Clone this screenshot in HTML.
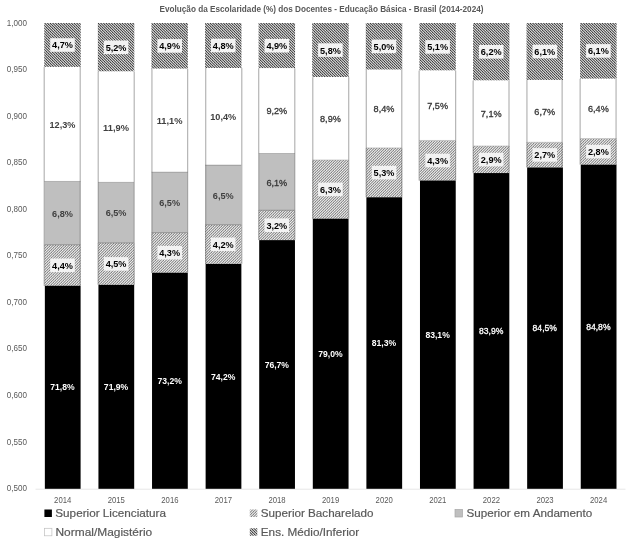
<!DOCTYPE html>
<html><head><meta charset="utf-8"><title>Chart</title>
<style>
html,body{margin:0;padding:0;background:#fff;}
body{width:628px;height:543px;overflow:hidden;font-family:"Liberation Sans",sans-serif;}
svg{display:block;will-change:transform;filter:grayscale(1);}
text{font-family:"Liberation Sans",sans-serif;}
.ax{font-size:8.8px;fill:#595959;}
.lb{font-size:10px;font-weight:bold;}
.lg{font-size:11.8px;fill:#595959;stroke:#595959;stroke-width:0.2px;}
</style></head><body>
<svg width="628" height="543" viewBox="0 0 628 543">
<defs>
<pattern id="pd" width="16" height="16" patternUnits="userSpaceOnUse" patternTransform="translate(0,0)">
<rect width="16" height="16" fill="#fff"/>
<path transform="scale(0.6666667)" d="M-29,-1 L-29,0 L-28,0 L-28,1 L-27,1 L-27,2 L-26,2 L-26,3 L-25,3 L-25,4 L-24,4 L-24,5 L-23,5 L-23,6 L-22,6 L-22,7 L-21,7 L-21,8 L-20,8 L-20,9 L-19,9 L-19,10 L-18,10 L-18,11 L-17,11 L-17,12 L-16,12 L-16,13 L-15,13 L-15,14 L-14,14 L-14,15 L-13,15 L-13,16 L-12,16 L-12,17 L-11,17 L-11,18 L-10,18 L-10,19 L-9,19 L-9,20 L-8,20 L-8,21 L-7,21 L-7,22 L-6,22 L-6,23 L-5,23 L-5,24 L-4,24 L-4,25 L-2.3,25 L-2.3,24 L-3.3,24 L-3.3,23 L-4.3,23 L-4.3,22 L-5.3,22 L-5.3,21 L-6.3,21 L-6.3,20 L-7.3,20 L-7.3,19 L-8.3,19 L-8.3,18 L-9.3,18 L-9.3,17 L-10.3,17 L-10.3,16 L-11.3,16 L-11.3,15 L-12.3,15 L-12.3,14 L-13.3,14 L-13.3,13 L-14.3,13 L-14.3,12 L-15.3,12 L-15.3,11 L-16.3,11 L-16.3,10 L-17.3,10 L-17.3,9 L-18.3,9 L-18.3,8 L-19.3,8 L-19.3,7 L-20.3,7 L-20.3,6 L-21.3,6 L-21.3,5 L-22.3,5 L-22.3,4 L-23.3,4 L-23.3,3 L-24.3,3 L-24.3,2 L-25.3,2 L-25.3,1 L-26.3,1 L-26.3,0 L-27.3,0 L-27.3,-1Z M-25,-1 L-25,0 L-24,0 L-24,1 L-23,1 L-23,2 L-22,2 L-22,3 L-21,3 L-21,4 L-20,4 L-20,5 L-19,5 L-19,6 L-18,6 L-18,7 L-17,7 L-17,8 L-16,8 L-16,9 L-15,9 L-15,10 L-14,10 L-14,11 L-13,11 L-13,12 L-12,12 L-12,13 L-11,13 L-11,14 L-10,14 L-10,15 L-9,15 L-9,16 L-8,16 L-8,17 L-7,17 L-7,18 L-6,18 L-6,19 L-5,19 L-5,20 L-4,20 L-4,21 L-3,21 L-3,22 L-2,22 L-2,23 L-1,23 L-1,24 L0,24 L0,25 L1.7,25 L1.7,24 L0.7,24 L0.7,23 L-0.3,23 L-0.3,22 L-1.3,22 L-1.3,21 L-2.3,21 L-2.3,20 L-3.3,20 L-3.3,19 L-4.3,19 L-4.3,18 L-5.3,18 L-5.3,17 L-6.3,17 L-6.3,16 L-7.3,16 L-7.3,15 L-8.3,15 L-8.3,14 L-9.3,14 L-9.3,13 L-10.3,13 L-10.3,12 L-11.3,12 L-11.3,11 L-12.3,11 L-12.3,10 L-13.3,10 L-13.3,9 L-14.3,9 L-14.3,8 L-15.3,8 L-15.3,7 L-16.3,7 L-16.3,6 L-17.3,6 L-17.3,5 L-18.3,5 L-18.3,4 L-19.3,4 L-19.3,3 L-20.3,3 L-20.3,2 L-21.3,2 L-21.3,1 L-22.3,1 L-22.3,0 L-23.3,0 L-23.3,-1Z M-21,-1 L-21,0 L-20,0 L-20,1 L-19,1 L-19,2 L-18,2 L-18,3 L-17,3 L-17,4 L-16,4 L-16,5 L-15,5 L-15,6 L-14,6 L-14,7 L-13,7 L-13,8 L-12,8 L-12,9 L-11,9 L-11,10 L-10,10 L-10,11 L-9,11 L-9,12 L-8,12 L-8,13 L-7,13 L-7,14 L-6,14 L-6,15 L-5,15 L-5,16 L-4,16 L-4,17 L-3,17 L-3,18 L-2,18 L-2,19 L-1,19 L-1,20 L0,20 L0,21 L1,21 L1,22 L2,22 L2,23 L3,23 L3,24 L4,24 L4,25 L5.7,25 L5.7,24 L4.7,24 L4.7,23 L3.7,23 L3.7,22 L2.7,22 L2.7,21 L1.7,21 L1.7,20 L0.7,20 L0.7,19 L-0.3,19 L-0.3,18 L-1.3,18 L-1.3,17 L-2.3,17 L-2.3,16 L-3.3,16 L-3.3,15 L-4.3,15 L-4.3,14 L-5.3,14 L-5.3,13 L-6.3,13 L-6.3,12 L-7.3,12 L-7.3,11 L-8.3,11 L-8.3,10 L-9.3,10 L-9.3,9 L-10.3,9 L-10.3,8 L-11.3,8 L-11.3,7 L-12.3,7 L-12.3,6 L-13.3,6 L-13.3,5 L-14.3,5 L-14.3,4 L-15.3,4 L-15.3,3 L-16.3,3 L-16.3,2 L-17.3,2 L-17.3,1 L-18.3,1 L-18.3,0 L-19.3,0 L-19.3,-1Z M-17,-1 L-17,0 L-16,0 L-16,1 L-15,1 L-15,2 L-14,2 L-14,3 L-13,3 L-13,4 L-12,4 L-12,5 L-11,5 L-11,6 L-10,6 L-10,7 L-9,7 L-9,8 L-8,8 L-8,9 L-7,9 L-7,10 L-6,10 L-6,11 L-5,11 L-5,12 L-4,12 L-4,13 L-3,13 L-3,14 L-2,14 L-2,15 L-1,15 L-1,16 L0,16 L0,17 L1,17 L1,18 L2,18 L2,19 L3,19 L3,20 L4,20 L4,21 L5,21 L5,22 L6,22 L6,23 L7,23 L7,24 L8,24 L8,25 L9.7,25 L9.7,24 L8.7,24 L8.7,23 L7.7,23 L7.7,22 L6.7,22 L6.7,21 L5.7,21 L5.7,20 L4.7,20 L4.7,19 L3.7,19 L3.7,18 L2.7,18 L2.7,17 L1.7,17 L1.7,16 L0.7,16 L0.7,15 L-0.3,15 L-0.3,14 L-1.3,14 L-1.3,13 L-2.3,13 L-2.3,12 L-3.3,12 L-3.3,11 L-4.3,11 L-4.3,10 L-5.3,10 L-5.3,9 L-6.3,9 L-6.3,8 L-7.3,8 L-7.3,7 L-8.3,7 L-8.3,6 L-9.3,6 L-9.3,5 L-10.3,5 L-10.3,4 L-11.3,4 L-11.3,3 L-12.3,3 L-12.3,2 L-13.3,2 L-13.3,1 L-14.3,1 L-14.3,0 L-15.3,0 L-15.3,-1Z M-13,-1 L-13,0 L-12,0 L-12,1 L-11,1 L-11,2 L-10,2 L-10,3 L-9,3 L-9,4 L-8,4 L-8,5 L-7,5 L-7,6 L-6,6 L-6,7 L-5,7 L-5,8 L-4,8 L-4,9 L-3,9 L-3,10 L-2,10 L-2,11 L-1,11 L-1,12 L0,12 L0,13 L1,13 L1,14 L2,14 L2,15 L3,15 L3,16 L4,16 L4,17 L5,17 L5,18 L6,18 L6,19 L7,19 L7,20 L8,20 L8,21 L9,21 L9,22 L10,22 L10,23 L11,23 L11,24 L12,24 L12,25 L13.7,25 L13.7,24 L12.7,24 L12.7,23 L11.7,23 L11.7,22 L10.7,22 L10.7,21 L9.7,21 L9.7,20 L8.7,20 L8.7,19 L7.7,19 L7.7,18 L6.7,18 L6.7,17 L5.7,17 L5.7,16 L4.7,16 L4.7,15 L3.7,15 L3.7,14 L2.7,14 L2.7,13 L1.7,13 L1.7,12 L0.7,12 L0.7,11 L-0.3,11 L-0.3,10 L-1.3,10 L-1.3,9 L-2.3,9 L-2.3,8 L-3.3,8 L-3.3,7 L-4.3,7 L-4.3,6 L-5.3,6 L-5.3,5 L-6.3,5 L-6.3,4 L-7.3,4 L-7.3,3 L-8.3,3 L-8.3,2 L-9.3,2 L-9.3,1 L-10.3,1 L-10.3,0 L-11.3,0 L-11.3,-1Z M-9,-1 L-9,0 L-8,0 L-8,1 L-7,1 L-7,2 L-6,2 L-6,3 L-5,3 L-5,4 L-4,4 L-4,5 L-3,5 L-3,6 L-2,6 L-2,7 L-1,7 L-1,8 L0,8 L0,9 L1,9 L1,10 L2,10 L2,11 L3,11 L3,12 L4,12 L4,13 L5,13 L5,14 L6,14 L6,15 L7,15 L7,16 L8,16 L8,17 L9,17 L9,18 L10,18 L10,19 L11,19 L11,20 L12,20 L12,21 L13,21 L13,22 L14,22 L14,23 L15,23 L15,24 L16,24 L16,25 L17.7,25 L17.7,24 L16.7,24 L16.7,23 L15.7,23 L15.7,22 L14.7,22 L14.7,21 L13.7,21 L13.7,20 L12.7,20 L12.7,19 L11.7,19 L11.7,18 L10.7,18 L10.7,17 L9.7,17 L9.7,16 L8.7,16 L8.7,15 L7.7,15 L7.7,14 L6.7,14 L6.7,13 L5.7,13 L5.7,12 L4.7,12 L4.7,11 L3.7,11 L3.7,10 L2.7,10 L2.7,9 L1.7,9 L1.7,8 L0.7,8 L0.7,7 L-0.3,7 L-0.3,6 L-1.3,6 L-1.3,5 L-2.3,5 L-2.3,4 L-3.3,4 L-3.3,3 L-4.3,3 L-4.3,2 L-5.3,2 L-5.3,1 L-6.3,1 L-6.3,0 L-7.3,0 L-7.3,-1Z M-5,-1 L-5,0 L-4,0 L-4,1 L-3,1 L-3,2 L-2,2 L-2,3 L-1,3 L-1,4 L0,4 L0,5 L1,5 L1,6 L2,6 L2,7 L3,7 L3,8 L4,8 L4,9 L5,9 L5,10 L6,10 L6,11 L7,11 L7,12 L8,12 L8,13 L9,13 L9,14 L10,14 L10,15 L11,15 L11,16 L12,16 L12,17 L13,17 L13,18 L14,18 L14,19 L15,19 L15,20 L16,20 L16,21 L17,21 L17,22 L18,22 L18,23 L19,23 L19,24 L20,24 L20,25 L21.7,25 L21.7,24 L20.7,24 L20.7,23 L19.7,23 L19.7,22 L18.7,22 L18.7,21 L17.7,21 L17.7,20 L16.7,20 L16.7,19 L15.7,19 L15.7,18 L14.7,18 L14.7,17 L13.7,17 L13.7,16 L12.7,16 L12.7,15 L11.7,15 L11.7,14 L10.7,14 L10.7,13 L9.7,13 L9.7,12 L8.7,12 L8.7,11 L7.7,11 L7.7,10 L6.7,10 L6.7,9 L5.7,9 L5.7,8 L4.7,8 L4.7,7 L3.7,7 L3.7,6 L2.7,6 L2.7,5 L1.7,5 L1.7,4 L0.7,4 L0.7,3 L-0.3,3 L-0.3,2 L-1.3,2 L-1.3,1 L-2.3,1 L-2.3,0 L-3.3,0 L-3.3,-1Z M-1,-1 L-1,0 L0,0 L0,1 L1,1 L1,2 L2,2 L2,3 L3,3 L3,4 L4,4 L4,5 L5,5 L5,6 L6,6 L6,7 L7,7 L7,8 L8,8 L8,9 L9,9 L9,10 L10,10 L10,11 L11,11 L11,12 L12,12 L12,13 L13,13 L13,14 L14,14 L14,15 L15,15 L15,16 L16,16 L16,17 L17,17 L17,18 L18,18 L18,19 L19,19 L19,20 L20,20 L20,21 L21,21 L21,22 L22,22 L22,23 L23,23 L23,24 L24,24 L24,25 L25.7,25 L25.7,24 L24.7,24 L24.7,23 L23.7,23 L23.7,22 L22.7,22 L22.7,21 L21.7,21 L21.7,20 L20.7,20 L20.7,19 L19.7,19 L19.7,18 L18.7,18 L18.7,17 L17.7,17 L17.7,16 L16.7,16 L16.7,15 L15.7,15 L15.7,14 L14.7,14 L14.7,13 L13.7,13 L13.7,12 L12.7,12 L12.7,11 L11.7,11 L11.7,10 L10.7,10 L10.7,9 L9.7,9 L9.7,8 L8.7,8 L8.7,7 L7.7,7 L7.7,6 L6.7,6 L6.7,5 L5.7,5 L5.7,4 L4.7,4 L4.7,3 L3.7,3 L3.7,2 L2.7,2 L2.7,1 L1.7,1 L1.7,0 L0.7,0 L0.7,-1Z M3,-1 L3,0 L4,0 L4,1 L5,1 L5,2 L6,2 L6,3 L7,3 L7,4 L8,4 L8,5 L9,5 L9,6 L10,6 L10,7 L11,7 L11,8 L12,8 L12,9 L13,9 L13,10 L14,10 L14,11 L15,11 L15,12 L16,12 L16,13 L17,13 L17,14 L18,14 L18,15 L19,15 L19,16 L20,16 L20,17 L21,17 L21,18 L22,18 L22,19 L23,19 L23,20 L24,20 L24,21 L25,21 L25,22 L26,22 L26,23 L27,23 L27,24 L28,24 L28,25 L29.7,25 L29.7,24 L28.7,24 L28.7,23 L27.7,23 L27.7,22 L26.7,22 L26.7,21 L25.7,21 L25.7,20 L24.7,20 L24.7,19 L23.7,19 L23.7,18 L22.7,18 L22.7,17 L21.7,17 L21.7,16 L20.7,16 L20.7,15 L19.7,15 L19.7,14 L18.7,14 L18.7,13 L17.7,13 L17.7,12 L16.7,12 L16.7,11 L15.7,11 L15.7,10 L14.7,10 L14.7,9 L13.7,9 L13.7,8 L12.7,8 L12.7,7 L11.7,7 L11.7,6 L10.7,6 L10.7,5 L9.7,5 L9.7,4 L8.7,4 L8.7,3 L7.7,3 L7.7,2 L6.7,2 L6.7,1 L5.7,1 L5.7,0 L4.7,0 L4.7,-1Z M7,-1 L7,0 L8,0 L8,1 L9,1 L9,2 L10,2 L10,3 L11,3 L11,4 L12,4 L12,5 L13,5 L13,6 L14,6 L14,7 L15,7 L15,8 L16,8 L16,9 L17,9 L17,10 L18,10 L18,11 L19,11 L19,12 L20,12 L20,13 L21,13 L21,14 L22,14 L22,15 L23,15 L23,16 L24,16 L24,17 L25,17 L25,18 L26,18 L26,19 L27,19 L27,20 L28,20 L28,21 L29,21 L29,22 L30,22 L30,23 L31,23 L31,24 L32,24 L32,25 L33.7,25 L33.7,24 L32.7,24 L32.7,23 L31.7,23 L31.7,22 L30.7,22 L30.7,21 L29.7,21 L29.7,20 L28.7,20 L28.7,19 L27.7,19 L27.7,18 L26.7,18 L26.7,17 L25.7,17 L25.7,16 L24.7,16 L24.7,15 L23.7,15 L23.7,14 L22.7,14 L22.7,13 L21.7,13 L21.7,12 L20.7,12 L20.7,11 L19.7,11 L19.7,10 L18.7,10 L18.7,9 L17.7,9 L17.7,8 L16.7,8 L16.7,7 L15.7,7 L15.7,6 L14.7,6 L14.7,5 L13.7,5 L13.7,4 L12.7,4 L12.7,3 L11.7,3 L11.7,2 L10.7,2 L10.7,1 L9.7,1 L9.7,0 L8.7,0 L8.7,-1Z M11,-1 L11,0 L12,0 L12,1 L13,1 L13,2 L14,2 L14,3 L15,3 L15,4 L16,4 L16,5 L17,5 L17,6 L18,6 L18,7 L19,7 L19,8 L20,8 L20,9 L21,9 L21,10 L22,10 L22,11 L23,11 L23,12 L24,12 L24,13 L25,13 L25,14 L26,14 L26,15 L27,15 L27,16 L28,16 L28,17 L29,17 L29,18 L30,18 L30,19 L31,19 L31,20 L32,20 L32,21 L33,21 L33,22 L34,22 L34,23 L35,23 L35,24 L36,24 L36,25 L37.7,25 L37.7,24 L36.7,24 L36.7,23 L35.7,23 L35.7,22 L34.7,22 L34.7,21 L33.7,21 L33.7,20 L32.7,20 L32.7,19 L31.7,19 L31.7,18 L30.7,18 L30.7,17 L29.7,17 L29.7,16 L28.7,16 L28.7,15 L27.7,15 L27.7,14 L26.7,14 L26.7,13 L25.7,13 L25.7,12 L24.7,12 L24.7,11 L23.7,11 L23.7,10 L22.7,10 L22.7,9 L21.7,9 L21.7,8 L20.7,8 L20.7,7 L19.7,7 L19.7,6 L18.7,6 L18.7,5 L17.7,5 L17.7,4 L16.7,4 L16.7,3 L15.7,3 L15.7,2 L14.7,2 L14.7,1 L13.7,1 L13.7,0 L12.7,0 L12.7,-1Z M15,-1 L15,0 L16,0 L16,1 L17,1 L17,2 L18,2 L18,3 L19,3 L19,4 L20,4 L20,5 L21,5 L21,6 L22,6 L22,7 L23,7 L23,8 L24,8 L24,9 L25,9 L25,10 L26,10 L26,11 L27,11 L27,12 L28,12 L28,13 L29,13 L29,14 L30,14 L30,15 L31,15 L31,16 L32,16 L32,17 L33,17 L33,18 L34,18 L34,19 L35,19 L35,20 L36,20 L36,21 L37,21 L37,22 L38,22 L38,23 L39,23 L39,24 L40,24 L40,25 L41.7,25 L41.7,24 L40.7,24 L40.7,23 L39.7,23 L39.7,22 L38.7,22 L38.7,21 L37.7,21 L37.7,20 L36.7,20 L36.7,19 L35.7,19 L35.7,18 L34.7,18 L34.7,17 L33.7,17 L33.7,16 L32.7,16 L32.7,15 L31.7,15 L31.7,14 L30.7,14 L30.7,13 L29.7,13 L29.7,12 L28.7,12 L28.7,11 L27.7,11 L27.7,10 L26.7,10 L26.7,9 L25.7,9 L25.7,8 L24.7,8 L24.7,7 L23.7,7 L23.7,6 L22.7,6 L22.7,5 L21.7,5 L21.7,4 L20.7,4 L20.7,3 L19.7,3 L19.7,2 L18.7,2 L18.7,1 L17.7,1 L17.7,0 L16.7,0 L16.7,-1Z M19,-1 L19,0 L20,0 L20,1 L21,1 L21,2 L22,2 L22,3 L23,3 L23,4 L24,4 L24,5 L25,5 L25,6 L26,6 L26,7 L27,7 L27,8 L28,8 L28,9 L29,9 L29,10 L30,10 L30,11 L31,11 L31,12 L32,12 L32,13 L33,13 L33,14 L34,14 L34,15 L35,15 L35,16 L36,16 L36,17 L37,17 L37,18 L38,18 L38,19 L39,19 L39,20 L40,20 L40,21 L41,21 L41,22 L42,22 L42,23 L43,23 L43,24 L44,24 L44,25 L45.7,25 L45.7,24 L44.7,24 L44.7,23 L43.7,23 L43.7,22 L42.7,22 L42.7,21 L41.7,21 L41.7,20 L40.7,20 L40.7,19 L39.7,19 L39.7,18 L38.7,18 L38.7,17 L37.7,17 L37.7,16 L36.7,16 L36.7,15 L35.7,15 L35.7,14 L34.7,14 L34.7,13 L33.7,13 L33.7,12 L32.7,12 L32.7,11 L31.7,11 L31.7,10 L30.7,10 L30.7,9 L29.7,9 L29.7,8 L28.7,8 L28.7,7 L27.7,7 L27.7,6 L26.7,6 L26.7,5 L25.7,5 L25.7,4 L24.7,4 L24.7,3 L23.7,3 L23.7,2 L22.7,2 L22.7,1 L21.7,1 L21.7,0 L20.7,0 L20.7,-1Z M23,-1 L23,0 L24,0 L24,1 L25,1 L25,2 L26,2 L26,3 L27,3 L27,4 L28,4 L28,5 L29,5 L29,6 L30,6 L30,7 L31,7 L31,8 L32,8 L32,9 L33,9 L33,10 L34,10 L34,11 L35,11 L35,12 L36,12 L36,13 L37,13 L37,14 L38,14 L38,15 L39,15 L39,16 L40,16 L40,17 L41,17 L41,18 L42,18 L42,19 L43,19 L43,20 L44,20 L44,21 L45,21 L45,22 L46,22 L46,23 L47,23 L47,24 L48,24 L48,25 L49.7,25 L49.7,24 L48.7,24 L48.7,23 L47.7,23 L47.7,22 L46.7,22 L46.7,21 L45.7,21 L45.7,20 L44.7,20 L44.7,19 L43.7,19 L43.7,18 L42.7,18 L42.7,17 L41.7,17 L41.7,16 L40.7,16 L40.7,15 L39.7,15 L39.7,14 L38.7,14 L38.7,13 L37.7,13 L37.7,12 L36.7,12 L36.7,11 L35.7,11 L35.7,10 L34.7,10 L34.7,9 L33.7,9 L33.7,8 L32.7,8 L32.7,7 L31.7,7 L31.7,6 L30.7,6 L30.7,5 L29.7,5 L29.7,4 L28.7,4 L28.7,3 L27.7,3 L27.7,2 L26.7,2 L26.7,1 L25.7,1 L25.7,0 L24.7,0 L24.7,-1Z" fill="#000"/>
</pattern>
<pattern id="pl" width="16" height="16" patternUnits="userSpaceOnUse" patternTransform="translate(0,0)">
<rect width="16" height="16" fill="#fff"/>
<path transform="scale(0.6666667)" d="M53,-1 L53,0 L52,0 L52,1 L51,1 L51,2 L50,2 L50,3 L49,3 L49,4 L48,4 L48,5 L47,5 L47,6 L46,6 L46,7 L45,7 L45,8 L44,8 L44,9 L43,9 L43,10 L42,10 L42,11 L41,11 L41,12 L40,12 L40,13 L39,13 L39,14 L38,14 L38,15 L37,15 L37,16 L36,16 L36,17 L35,17 L35,18 L34,18 L34,19 L33,19 L33,20 L32,20 L32,21 L31,21 L31,22 L30,22 L30,23 L29,23 L29,24 L28,24 L28,25 L26.38,25 L26.38,24 L27.38,24 L27.38,23 L28.38,23 L28.38,22 L29.38,22 L29.38,21 L30.38,21 L30.38,20 L31.38,20 L31.38,19 L32.38,19 L32.38,18 L33.38,18 L33.38,17 L34.38,17 L34.38,16 L35.38,16 L35.38,15 L36.38,15 L36.38,14 L37.38,14 L37.38,13 L38.38,13 L38.38,12 L39.38,12 L39.38,11 L40.38,11 L40.38,10 L41.38,10 L41.38,9 L42.38,9 L42.38,8 L43.38,8 L43.38,7 L44.38,7 L44.38,6 L45.38,6 L45.38,5 L46.38,5 L46.38,4 L47.38,4 L47.38,3 L48.38,3 L48.38,2 L49.38,2 L49.38,1 L50.38,1 L50.38,0 L51.38,0 L51.38,-1Z M49,-1 L49,0 L48,0 L48,1 L47,1 L47,2 L46,2 L46,3 L45,3 L45,4 L44,4 L44,5 L43,5 L43,6 L42,6 L42,7 L41,7 L41,8 L40,8 L40,9 L39,9 L39,10 L38,10 L38,11 L37,11 L37,12 L36,12 L36,13 L35,13 L35,14 L34,14 L34,15 L33,15 L33,16 L32,16 L32,17 L31,17 L31,18 L30,18 L30,19 L29,19 L29,20 L28,20 L28,21 L27,21 L27,22 L26,22 L26,23 L25,23 L25,24 L24,24 L24,25 L22.38,25 L22.38,24 L23.38,24 L23.38,23 L24.38,23 L24.38,22 L25.38,22 L25.38,21 L26.38,21 L26.38,20 L27.38,20 L27.38,19 L28.38,19 L28.38,18 L29.38,18 L29.38,17 L30.38,17 L30.38,16 L31.38,16 L31.38,15 L32.38,15 L32.38,14 L33.38,14 L33.38,13 L34.38,13 L34.38,12 L35.38,12 L35.38,11 L36.38,11 L36.38,10 L37.38,10 L37.38,9 L38.38,9 L38.38,8 L39.38,8 L39.38,7 L40.38,7 L40.38,6 L41.38,6 L41.38,5 L42.38,5 L42.38,4 L43.38,4 L43.38,3 L44.38,3 L44.38,2 L45.38,2 L45.38,1 L46.38,1 L46.38,0 L47.38,0 L47.38,-1Z M45,-1 L45,0 L44,0 L44,1 L43,1 L43,2 L42,2 L42,3 L41,3 L41,4 L40,4 L40,5 L39,5 L39,6 L38,6 L38,7 L37,7 L37,8 L36,8 L36,9 L35,9 L35,10 L34,10 L34,11 L33,11 L33,12 L32,12 L32,13 L31,13 L31,14 L30,14 L30,15 L29,15 L29,16 L28,16 L28,17 L27,17 L27,18 L26,18 L26,19 L25,19 L25,20 L24,20 L24,21 L23,21 L23,22 L22,22 L22,23 L21,23 L21,24 L20,24 L20,25 L18.38,25 L18.38,24 L19.38,24 L19.38,23 L20.38,23 L20.38,22 L21.38,22 L21.38,21 L22.38,21 L22.38,20 L23.38,20 L23.38,19 L24.38,19 L24.38,18 L25.38,18 L25.38,17 L26.38,17 L26.38,16 L27.38,16 L27.38,15 L28.38,15 L28.38,14 L29.38,14 L29.38,13 L30.38,13 L30.38,12 L31.38,12 L31.38,11 L32.38,11 L32.38,10 L33.38,10 L33.38,9 L34.38,9 L34.38,8 L35.38,8 L35.38,7 L36.38,7 L36.38,6 L37.38,6 L37.38,5 L38.38,5 L38.38,4 L39.38,4 L39.38,3 L40.38,3 L40.38,2 L41.38,2 L41.38,1 L42.38,1 L42.38,0 L43.38,0 L43.38,-1Z M41,-1 L41,0 L40,0 L40,1 L39,1 L39,2 L38,2 L38,3 L37,3 L37,4 L36,4 L36,5 L35,5 L35,6 L34,6 L34,7 L33,7 L33,8 L32,8 L32,9 L31,9 L31,10 L30,10 L30,11 L29,11 L29,12 L28,12 L28,13 L27,13 L27,14 L26,14 L26,15 L25,15 L25,16 L24,16 L24,17 L23,17 L23,18 L22,18 L22,19 L21,19 L21,20 L20,20 L20,21 L19,21 L19,22 L18,22 L18,23 L17,23 L17,24 L16,24 L16,25 L14.38,25 L14.38,24 L15.38,24 L15.38,23 L16.38,23 L16.38,22 L17.38,22 L17.38,21 L18.38,21 L18.38,20 L19.38,20 L19.38,19 L20.38,19 L20.38,18 L21.38,18 L21.38,17 L22.38,17 L22.38,16 L23.38,16 L23.38,15 L24.38,15 L24.38,14 L25.38,14 L25.38,13 L26.38,13 L26.38,12 L27.38,12 L27.38,11 L28.38,11 L28.38,10 L29.38,10 L29.38,9 L30.38,9 L30.38,8 L31.38,8 L31.38,7 L32.38,7 L32.38,6 L33.38,6 L33.38,5 L34.38,5 L34.38,4 L35.38,4 L35.38,3 L36.38,3 L36.38,2 L37.38,2 L37.38,1 L38.38,1 L38.38,0 L39.38,0 L39.38,-1Z M37,-1 L37,0 L36,0 L36,1 L35,1 L35,2 L34,2 L34,3 L33,3 L33,4 L32,4 L32,5 L31,5 L31,6 L30,6 L30,7 L29,7 L29,8 L28,8 L28,9 L27,9 L27,10 L26,10 L26,11 L25,11 L25,12 L24,12 L24,13 L23,13 L23,14 L22,14 L22,15 L21,15 L21,16 L20,16 L20,17 L19,17 L19,18 L18,18 L18,19 L17,19 L17,20 L16,20 L16,21 L15,21 L15,22 L14,22 L14,23 L13,23 L13,24 L12,24 L12,25 L10.38,25 L10.38,24 L11.38,24 L11.38,23 L12.38,23 L12.38,22 L13.38,22 L13.38,21 L14.38,21 L14.38,20 L15.38,20 L15.38,19 L16.38,19 L16.38,18 L17.38,18 L17.38,17 L18.38,17 L18.38,16 L19.38,16 L19.38,15 L20.38,15 L20.38,14 L21.38,14 L21.38,13 L22.38,13 L22.38,12 L23.38,12 L23.38,11 L24.38,11 L24.38,10 L25.38,10 L25.38,9 L26.38,9 L26.38,8 L27.38,8 L27.38,7 L28.38,7 L28.38,6 L29.38,6 L29.38,5 L30.38,5 L30.38,4 L31.38,4 L31.38,3 L32.38,3 L32.38,2 L33.38,2 L33.38,1 L34.38,1 L34.38,0 L35.38,0 L35.38,-1Z M33,-1 L33,0 L32,0 L32,1 L31,1 L31,2 L30,2 L30,3 L29,3 L29,4 L28,4 L28,5 L27,5 L27,6 L26,6 L26,7 L25,7 L25,8 L24,8 L24,9 L23,9 L23,10 L22,10 L22,11 L21,11 L21,12 L20,12 L20,13 L19,13 L19,14 L18,14 L18,15 L17,15 L17,16 L16,16 L16,17 L15,17 L15,18 L14,18 L14,19 L13,19 L13,20 L12,20 L12,21 L11,21 L11,22 L10,22 L10,23 L9,23 L9,24 L8,24 L8,25 L6.38,25 L6.38,24 L7.38,24 L7.38,23 L8.38,23 L8.38,22 L9.38,22 L9.38,21 L10.38,21 L10.38,20 L11.38,20 L11.38,19 L12.38,19 L12.38,18 L13.38,18 L13.38,17 L14.38,17 L14.38,16 L15.38,16 L15.38,15 L16.38,15 L16.38,14 L17.38,14 L17.38,13 L18.38,13 L18.38,12 L19.38,12 L19.38,11 L20.38,11 L20.38,10 L21.38,10 L21.38,9 L22.38,9 L22.38,8 L23.38,8 L23.38,7 L24.38,7 L24.38,6 L25.38,6 L25.38,5 L26.38,5 L26.38,4 L27.38,4 L27.38,3 L28.38,3 L28.38,2 L29.38,2 L29.38,1 L30.38,1 L30.38,0 L31.38,0 L31.38,-1Z M29,-1 L29,0 L28,0 L28,1 L27,1 L27,2 L26,2 L26,3 L25,3 L25,4 L24,4 L24,5 L23,5 L23,6 L22,6 L22,7 L21,7 L21,8 L20,8 L20,9 L19,9 L19,10 L18,10 L18,11 L17,11 L17,12 L16,12 L16,13 L15,13 L15,14 L14,14 L14,15 L13,15 L13,16 L12,16 L12,17 L11,17 L11,18 L10,18 L10,19 L9,19 L9,20 L8,20 L8,21 L7,21 L7,22 L6,22 L6,23 L5,23 L5,24 L4,24 L4,25 L2.38,25 L2.38,24 L3.38,24 L3.38,23 L4.38,23 L4.38,22 L5.38,22 L5.38,21 L6.38,21 L6.38,20 L7.38,20 L7.38,19 L8.38,19 L8.38,18 L9.38,18 L9.38,17 L10.38,17 L10.38,16 L11.38,16 L11.38,15 L12.38,15 L12.38,14 L13.38,14 L13.38,13 L14.38,13 L14.38,12 L15.38,12 L15.38,11 L16.38,11 L16.38,10 L17.38,10 L17.38,9 L18.38,9 L18.38,8 L19.38,8 L19.38,7 L20.38,7 L20.38,6 L21.38,6 L21.38,5 L22.38,5 L22.38,4 L23.38,4 L23.38,3 L24.38,3 L24.38,2 L25.38,2 L25.38,1 L26.38,1 L26.38,0 L27.38,0 L27.38,-1Z M25,-1 L25,0 L24,0 L24,1 L23,1 L23,2 L22,2 L22,3 L21,3 L21,4 L20,4 L20,5 L19,5 L19,6 L18,6 L18,7 L17,7 L17,8 L16,8 L16,9 L15,9 L15,10 L14,10 L14,11 L13,11 L13,12 L12,12 L12,13 L11,13 L11,14 L10,14 L10,15 L9,15 L9,16 L8,16 L8,17 L7,17 L7,18 L6,18 L6,19 L5,19 L5,20 L4,20 L4,21 L3,21 L3,22 L2,22 L2,23 L1,23 L1,24 L0,24 L0,25 L-1.62,25 L-1.62,24 L-0.62,24 L-0.62,23 L0.38,23 L0.38,22 L1.38,22 L1.38,21 L2.38,21 L2.38,20 L3.38,20 L3.38,19 L4.38,19 L4.38,18 L5.38,18 L5.38,17 L6.38,17 L6.38,16 L7.38,16 L7.38,15 L8.38,15 L8.38,14 L9.38,14 L9.38,13 L10.38,13 L10.38,12 L11.38,12 L11.38,11 L12.38,11 L12.38,10 L13.38,10 L13.38,9 L14.38,9 L14.38,8 L15.38,8 L15.38,7 L16.38,7 L16.38,6 L17.38,6 L17.38,5 L18.38,5 L18.38,4 L19.38,4 L19.38,3 L20.38,3 L20.38,2 L21.38,2 L21.38,1 L22.38,1 L22.38,0 L23.38,0 L23.38,-1Z M21,-1 L21,0 L20,0 L20,1 L19,1 L19,2 L18,2 L18,3 L17,3 L17,4 L16,4 L16,5 L15,5 L15,6 L14,6 L14,7 L13,7 L13,8 L12,8 L12,9 L11,9 L11,10 L10,10 L10,11 L9,11 L9,12 L8,12 L8,13 L7,13 L7,14 L6,14 L6,15 L5,15 L5,16 L4,16 L4,17 L3,17 L3,18 L2,18 L2,19 L1,19 L1,20 L0,20 L0,21 L-1,21 L-1,22 L-2,22 L-2,23 L-3,23 L-3,24 L-4,24 L-4,25 L-5.62,25 L-5.62,24 L-4.62,24 L-4.62,23 L-3.62,23 L-3.62,22 L-2.62,22 L-2.62,21 L-1.62,21 L-1.62,20 L-0.62,20 L-0.62,19 L0.38,19 L0.38,18 L1.38,18 L1.38,17 L2.38,17 L2.38,16 L3.38,16 L3.38,15 L4.38,15 L4.38,14 L5.38,14 L5.38,13 L6.38,13 L6.38,12 L7.38,12 L7.38,11 L8.38,11 L8.38,10 L9.38,10 L9.38,9 L10.38,9 L10.38,8 L11.38,8 L11.38,7 L12.38,7 L12.38,6 L13.38,6 L13.38,5 L14.38,5 L14.38,4 L15.38,4 L15.38,3 L16.38,3 L16.38,2 L17.38,2 L17.38,1 L18.38,1 L18.38,0 L19.38,0 L19.38,-1Z M17,-1 L17,0 L16,0 L16,1 L15,1 L15,2 L14,2 L14,3 L13,3 L13,4 L12,4 L12,5 L11,5 L11,6 L10,6 L10,7 L9,7 L9,8 L8,8 L8,9 L7,9 L7,10 L6,10 L6,11 L5,11 L5,12 L4,12 L4,13 L3,13 L3,14 L2,14 L2,15 L1,15 L1,16 L0,16 L0,17 L-1,17 L-1,18 L-2,18 L-2,19 L-3,19 L-3,20 L-4,20 L-4,21 L-5,21 L-5,22 L-6,22 L-6,23 L-7,23 L-7,24 L-8,24 L-8,25 L-9.62,25 L-9.62,24 L-8.62,24 L-8.62,23 L-7.62,23 L-7.62,22 L-6.62,22 L-6.62,21 L-5.62,21 L-5.62,20 L-4.62,20 L-4.62,19 L-3.62,19 L-3.62,18 L-2.62,18 L-2.62,17 L-1.62,17 L-1.62,16 L-0.62,16 L-0.62,15 L0.38,15 L0.38,14 L1.38,14 L1.38,13 L2.38,13 L2.38,12 L3.38,12 L3.38,11 L4.38,11 L4.38,10 L5.38,10 L5.38,9 L6.38,9 L6.38,8 L7.38,8 L7.38,7 L8.38,7 L8.38,6 L9.38,6 L9.38,5 L10.38,5 L10.38,4 L11.38,4 L11.38,3 L12.38,3 L12.38,2 L13.38,2 L13.38,1 L14.38,1 L14.38,0 L15.38,0 L15.38,-1Z M13,-1 L13,0 L12,0 L12,1 L11,1 L11,2 L10,2 L10,3 L9,3 L9,4 L8,4 L8,5 L7,5 L7,6 L6,6 L6,7 L5,7 L5,8 L4,8 L4,9 L3,9 L3,10 L2,10 L2,11 L1,11 L1,12 L0,12 L0,13 L-1,13 L-1,14 L-2,14 L-2,15 L-3,15 L-3,16 L-4,16 L-4,17 L-5,17 L-5,18 L-6,18 L-6,19 L-7,19 L-7,20 L-8,20 L-8,21 L-9,21 L-9,22 L-10,22 L-10,23 L-11,23 L-11,24 L-12,24 L-12,25 L-13.62,25 L-13.62,24 L-12.62,24 L-12.62,23 L-11.62,23 L-11.62,22 L-10.62,22 L-10.62,21 L-9.62,21 L-9.62,20 L-8.62,20 L-8.62,19 L-7.62,19 L-7.62,18 L-6.62,18 L-6.62,17 L-5.62,17 L-5.62,16 L-4.62,16 L-4.62,15 L-3.62,15 L-3.62,14 L-2.62,14 L-2.62,13 L-1.62,13 L-1.62,12 L-0.62,12 L-0.62,11 L0.38,11 L0.38,10 L1.38,10 L1.38,9 L2.38,9 L2.38,8 L3.38,8 L3.38,7 L4.38,7 L4.38,6 L5.38,6 L5.38,5 L6.38,5 L6.38,4 L7.38,4 L7.38,3 L8.38,3 L8.38,2 L9.38,2 L9.38,1 L10.38,1 L10.38,0 L11.38,0 L11.38,-1Z M9,-1 L9,0 L8,0 L8,1 L7,1 L7,2 L6,2 L6,3 L5,3 L5,4 L4,4 L4,5 L3,5 L3,6 L2,6 L2,7 L1,7 L1,8 L0,8 L0,9 L-1,9 L-1,10 L-2,10 L-2,11 L-3,11 L-3,12 L-4,12 L-4,13 L-5,13 L-5,14 L-6,14 L-6,15 L-7,15 L-7,16 L-8,16 L-8,17 L-9,17 L-9,18 L-10,18 L-10,19 L-11,19 L-11,20 L-12,20 L-12,21 L-13,21 L-13,22 L-14,22 L-14,23 L-15,23 L-15,24 L-16,24 L-16,25 L-17.62,25 L-17.62,24 L-16.62,24 L-16.62,23 L-15.62,23 L-15.62,22 L-14.62,22 L-14.62,21 L-13.62,21 L-13.62,20 L-12.62,20 L-12.62,19 L-11.62,19 L-11.62,18 L-10.62,18 L-10.62,17 L-9.62,17 L-9.62,16 L-8.62,16 L-8.62,15 L-7.62,15 L-7.62,14 L-6.62,14 L-6.62,13 L-5.62,13 L-5.62,12 L-4.62,12 L-4.62,11 L-3.62,11 L-3.62,10 L-2.62,10 L-2.62,9 L-1.62,9 L-1.62,8 L-0.62,8 L-0.62,7 L0.38,7 L0.38,6 L1.38,6 L1.38,5 L2.38,5 L2.38,4 L3.38,4 L3.38,3 L4.38,3 L4.38,2 L5.38,2 L5.38,1 L6.38,1 L6.38,0 L7.38,0 L7.38,-1Z M5,-1 L5,0 L4,0 L4,1 L3,1 L3,2 L2,2 L2,3 L1,3 L1,4 L0,4 L0,5 L-1,5 L-1,6 L-2,6 L-2,7 L-3,7 L-3,8 L-4,8 L-4,9 L-5,9 L-5,10 L-6,10 L-6,11 L-7,11 L-7,12 L-8,12 L-8,13 L-9,13 L-9,14 L-10,14 L-10,15 L-11,15 L-11,16 L-12,16 L-12,17 L-13,17 L-13,18 L-14,18 L-14,19 L-15,19 L-15,20 L-16,20 L-16,21 L-17,21 L-17,22 L-18,22 L-18,23 L-19,23 L-19,24 L-20,24 L-20,25 L-21.62,25 L-21.62,24 L-20.62,24 L-20.62,23 L-19.62,23 L-19.62,22 L-18.62,22 L-18.62,21 L-17.62,21 L-17.62,20 L-16.62,20 L-16.62,19 L-15.62,19 L-15.62,18 L-14.62,18 L-14.62,17 L-13.62,17 L-13.62,16 L-12.62,16 L-12.62,15 L-11.62,15 L-11.62,14 L-10.62,14 L-10.62,13 L-9.62,13 L-9.62,12 L-8.62,12 L-8.62,11 L-7.62,11 L-7.62,10 L-6.62,10 L-6.62,9 L-5.62,9 L-5.62,8 L-4.62,8 L-4.62,7 L-3.62,7 L-3.62,6 L-2.62,6 L-2.62,5 L-1.62,5 L-1.62,4 L-0.62,4 L-0.62,3 L0.38,3 L0.38,2 L1.38,2 L1.38,1 L2.38,1 L2.38,0 L3.38,0 L3.38,-1Z M1,-1 L1,0 L0,0 L0,1 L-1,1 L-1,2 L-2,2 L-2,3 L-3,3 L-3,4 L-4,4 L-4,5 L-5,5 L-5,6 L-6,6 L-6,7 L-7,7 L-7,8 L-8,8 L-8,9 L-9,9 L-9,10 L-10,10 L-10,11 L-11,11 L-11,12 L-12,12 L-12,13 L-13,13 L-13,14 L-14,14 L-14,15 L-15,15 L-15,16 L-16,16 L-16,17 L-17,17 L-17,18 L-18,18 L-18,19 L-19,19 L-19,20 L-20,20 L-20,21 L-21,21 L-21,22 L-22,22 L-22,23 L-23,23 L-23,24 L-24,24 L-24,25 L-25.62,25 L-25.62,24 L-24.62,24 L-24.62,23 L-23.62,23 L-23.62,22 L-22.62,22 L-22.62,21 L-21.62,21 L-21.62,20 L-20.62,20 L-20.62,19 L-19.62,19 L-19.62,18 L-18.62,18 L-18.62,17 L-17.62,17 L-17.62,16 L-16.62,16 L-16.62,15 L-15.62,15 L-15.62,14 L-14.62,14 L-14.62,13 L-13.62,13 L-13.62,12 L-12.62,12 L-12.62,11 L-11.62,11 L-11.62,10 L-10.62,10 L-10.62,9 L-9.62,9 L-9.62,8 L-8.62,8 L-8.62,7 L-7.62,7 L-7.62,6 L-6.62,6 L-6.62,5 L-5.62,5 L-5.62,4 L-4.62,4 L-4.62,3 L-3.62,3 L-3.62,2 L-2.62,2 L-2.62,1 L-1.62,1 L-1.62,0 L-0.62,0 L-0.62,-1Z" fill="#595959"/>
</pattern>
<filter id="bl" color-interpolation-filters="sRGB" filterUnits="userSpaceOnUse" x="0" y="0" width="628" height="543"><feConvolveMatrix order="3" kernelMatrix="0.00123 0.03255 0.00123 0.03255 0.86490 0.03255 0.00123 0.03255 0.00123" edgeMode="duplicate" preserveAlpha="true"/></filter>
</defs>
<rect width="628" height="543" fill="#fff"/>
<text x="159.5" y="12.2" textLength="324" lengthAdjust="spacingAndGlyphs" font-size="8.8" font-weight="bold" fill="#595959">Evolução da Escolaridade (%) dos Docentes - Educação Básica - Brasil (2014-2024)</text>
<text class="ax" x="6.7" y="25.5" textLength="20.2" lengthAdjust="spacingAndGlyphs">1,000</text>
<text class="ax" x="6.7" y="72.0" textLength="20.2" lengthAdjust="spacingAndGlyphs">0,950</text>
<text class="ax" x="6.7" y="118.6" textLength="20.2" lengthAdjust="spacingAndGlyphs">0,900</text>
<text class="ax" x="6.7" y="165.2" textLength="20.2" lengthAdjust="spacingAndGlyphs">0,850</text>
<text class="ax" x="6.7" y="211.7" textLength="20.2" lengthAdjust="spacingAndGlyphs">0,800</text>
<text class="ax" x="6.7" y="258.3" textLength="20.2" lengthAdjust="spacingAndGlyphs">0,750</text>
<text class="ax" x="6.7" y="304.9" textLength="20.2" lengthAdjust="spacingAndGlyphs">0,700</text>
<text class="ax" x="6.7" y="351.4" textLength="20.2" lengthAdjust="spacingAndGlyphs">0,650</text>
<text class="ax" x="6.7" y="398.0" textLength="20.2" lengthAdjust="spacingAndGlyphs">0,600</text>
<text class="ax" x="6.7" y="444.6" textLength="20.2" lengthAdjust="spacingAndGlyphs">0,550</text>
<text class="ax" x="6.7" y="490.9" textLength="20.2" lengthAdjust="spacingAndGlyphs">0,500</text>
<line x1="35.5" x2="625.5" y1="489.2" y2="489.2" stroke="#e4e4e4" stroke-width="0.9"/>
<clipPath id="hc"><rect x="44.25" y="244.77" width="36.45" height="40.98"/><rect x="44.25" y="23.10" width="36.45" height="43.78"/><rect x="97.84" y="242.91" width="36.45" height="41.91"/><rect x="97.84" y="23.10" width="36.45" height="48.43"/><rect x="151.43" y="232.66" width="36.45" height="40.05"/><rect x="151.43" y="23.10" width="36.45" height="45.64"/><rect x="205.02" y="224.75" width="36.45" height="39.12"/><rect x="205.02" y="23.10" width="36.45" height="44.89"/><rect x="258.61" y="210.31" width="36.45" height="29.80"/><rect x="258.61" y="23.10" width="36.45" height="45.17"/><rect x="312.20" y="160.02" width="36.45" height="58.68"/><rect x="312.20" y="23.10" width="36.45" height="54.02"/><rect x="365.79" y="147.91" width="36.45" height="49.36"/><rect x="365.79" y="23.10" width="36.45" height="46.57"/><rect x="419.38" y="140.46" width="36.45" height="40.05"/><rect x="419.38" y="23.10" width="36.45" height="47.50"/><rect x="472.97" y="146.04" width="36.45" height="27.01"/><rect x="472.97" y="23.10" width="36.45" height="57.47"/><rect x="526.56" y="142.32" width="36.45" height="25.15"/><rect x="526.56" y="23.10" width="36.45" height="56.82"/><rect x="580.15" y="138.59" width="36.45" height="26.08"/><rect x="580.15" y="23.10" width="36.45" height="55.70"/><rect x="249.80" y="509.50" width="7.5" height="7.5"/><rect x="249.80" y="528.30" width="7.5" height="7.5"/></clipPath>
<g clip-path="url(#hc)"><g filter="url(#bl)"><rect x="42.25" y="242.77" width="40.45" height="44.98" fill="url(#pl)"/>
<rect x="42.25" y="21.10" width="40.45" height="47.78" fill="url(#pd)"/>
<rect x="95.84" y="240.91" width="40.45" height="45.91" fill="url(#pl)"/>
<rect x="95.84" y="21.10" width="40.45" height="52.43" fill="url(#pd)"/>
<rect x="149.43" y="230.66" width="40.45" height="44.05" fill="url(#pl)"/>
<rect x="149.43" y="21.10" width="40.45" height="49.64" fill="url(#pd)"/>
<rect x="203.02" y="222.75" width="40.45" height="43.12" fill="url(#pl)"/>
<rect x="203.02" y="21.10" width="40.45" height="48.89" fill="url(#pd)"/>
<rect x="256.61" y="208.31" width="40.45" height="33.80" fill="url(#pl)"/>
<rect x="256.61" y="21.10" width="40.45" height="49.17" fill="url(#pd)"/>
<rect x="310.20" y="158.02" width="40.45" height="62.68" fill="url(#pl)"/>
<rect x="310.20" y="21.10" width="40.45" height="58.02" fill="url(#pd)"/>
<rect x="363.79" y="145.91" width="40.45" height="53.36" fill="url(#pl)"/>
<rect x="363.79" y="21.10" width="40.45" height="50.57" fill="url(#pd)"/>
<rect x="417.38" y="138.46" width="40.45" height="44.05" fill="url(#pl)"/>
<rect x="417.38" y="21.10" width="40.45" height="51.50" fill="url(#pd)"/>
<rect x="470.97" y="144.04" width="40.45" height="31.01" fill="url(#pl)"/>
<rect x="470.97" y="21.10" width="40.45" height="61.47" fill="url(#pd)"/>
<rect x="524.56" y="140.32" width="40.45" height="29.15" fill="url(#pl)"/>
<rect x="524.56" y="21.10" width="40.45" height="60.82" fill="url(#pd)"/>
<rect x="578.15" y="136.59" width="40.45" height="30.08" fill="url(#pl)"/>
<rect x="578.15" y="21.10" width="40.45" height="59.70" fill="url(#pd)"/>
<rect x="247.80" y="507.50" width="11.5" height="11.5" fill="url(#pl)"/>
<rect x="247.80" y="526.30" width="11.5" height="11.5" fill="url(#pd)"/></g></g>
<rect x="44.85" y="285.75" width="35.75" height="203.05" fill="#000"/>
<rect x="44.55" y="181.44" width="35.85" height="63.34" fill="#bfbfbf"/>
<path d="M44.55,181.44 H80.40 M44.55,244.77 H80.40" stroke="#6a6a6a" stroke-width="0.6" fill="none"/>
<rect x="44.55" y="66.88" width="35.85" height="114.56" fill="#fff"/>
<path d="M44.55,181.44 H80.40" stroke="#9a9a9a" stroke-width="0.5" fill="none"/>
<path d="M44.18,66.88 V285.75 M80.18,66.88 V285.75" stroke="#6a6a6a" stroke-width="0.6" fill="none"/>
<text class="lb" x="50.28" y="390.48" fill="#fff" style="font-size:9.3px;" textLength="24.38" lengthAdjust="spacingAndGlyphs">71,8%</text>
<rect x="50.2" y="258.5" width="24.6" height="13.6" fill="#f2f2f2"/>
<text class="lb" x="52.05" y="268.66" fill="#000" style="font-size:9.6px;" textLength="20.85" lengthAdjust="spacingAndGlyphs">4,4%</text>
<text class="lb" x="52.05" y="216.71" fill="#404040" style="font-size:9.6px;" textLength="20.85" lengthAdjust="spacingAndGlyphs">6,8%</text>
<text class="lb" x="49.50" y="127.76" fill="#404040" style="font-size:9.6px;" textLength="25.94" lengthAdjust="spacingAndGlyphs">12,3%</text>
<rect x="50.2" y="38.2" width="24.6" height="13.6" fill="#f2f2f2"/>
<text class="lb" x="52.05" y="48.39" fill="#000" style="font-size:9.6px;" textLength="20.85" lengthAdjust="spacingAndGlyphs">4,7%</text>
<text class="ax" x="54.1" y="503.3" textLength="17.2" lengthAdjust="spacingAndGlyphs">2014</text>
<rect x="98.44" y="284.82" width="35.75" height="203.98" fill="#000"/>
<rect x="98.14" y="182.37" width="35.85" height="60.54" fill="#bfbfbf"/>
<path d="M98.14,182.37 H133.99 M98.14,242.91 H133.99" stroke="#6a6a6a" stroke-width="0.6" fill="none"/>
<rect x="98.14" y="71.53" width="35.85" height="110.84" fill="#fff"/>
<path d="M98.14,182.37 H133.99" stroke="#9a9a9a" stroke-width="0.5" fill="none"/>
<path d="M98.18,71.53 V284.82 M134.18,71.53 V284.82" stroke="#6a6a6a" stroke-width="0.6" fill="none"/>
<text class="lb" x="103.87" y="390.01" fill="#fff" style="font-size:9.3px;" textLength="24.38" lengthAdjust="spacingAndGlyphs">71,9%</text>
<rect x="103.8" y="257.1" width="24.6" height="13.6" fill="#f2f2f2"/>
<text class="lb" x="105.64" y="267.27" fill="#000" style="font-size:9.6px;" textLength="20.85" lengthAdjust="spacingAndGlyphs">4,5%</text>
<text class="lb" x="105.64" y="216.24" fill="#404040" style="font-size:9.6px;" textLength="20.85" lengthAdjust="spacingAndGlyphs">6,5%</text>
<text class="lb" x="103.09" y="130.55" fill="#404040" style="font-size:9.6px;" textLength="25.94" lengthAdjust="spacingAndGlyphs">11,9%</text>
<rect x="103.8" y="40.5" width="24.6" height="13.6" fill="#f2f2f2"/>
<text class="lb" x="105.64" y="50.72" fill="#000" style="font-size:9.6px;" textLength="20.85" lengthAdjust="spacingAndGlyphs">5,2%</text>
<text class="ax" x="107.7" y="503.3" textLength="17.2" lengthAdjust="spacingAndGlyphs">2015</text>
<rect x="152.03" y="272.72" width="35.75" height="216.08" fill="#000"/>
<rect x="151.73" y="172.12" width="35.85" height="60.54" fill="#bfbfbf"/>
<path d="M151.73,172.12 H187.58 M151.73,232.66 H187.58" stroke="#6a6a6a" stroke-width="0.6" fill="none"/>
<rect x="151.73" y="68.74" width="35.85" height="103.39" fill="#fff"/>
<path d="M151.73,172.12 H187.58" stroke="#9a9a9a" stroke-width="0.5" fill="none"/>
<path d="M151.94,68.74 V272.72 M187.70,68.74 V272.72" stroke="#6a6a6a" stroke-width="0.6" fill="none"/>
<text class="lb" x="157.46" y="383.96" fill="#fff" style="font-size:9.3px;" textLength="24.38" lengthAdjust="spacingAndGlyphs">73,2%</text>
<rect x="157.4" y="245.9" width="24.6" height="13.6" fill="#f2f2f2"/>
<text class="lb" x="159.23" y="256.09" fill="#000" style="font-size:9.6px;" textLength="20.85" lengthAdjust="spacingAndGlyphs">4,3%</text>
<text class="lb" x="159.23" y="205.99" fill="#404040" style="font-size:9.6px;" textLength="20.85" lengthAdjust="spacingAndGlyphs">6,5%</text>
<text class="lb" x="156.68" y="124.03" fill="#404040" style="font-size:9.6px;" textLength="25.94" lengthAdjust="spacingAndGlyphs">11,1%</text>
<rect x="157.4" y="39.1" width="24.6" height="13.6" fill="#f2f2f2"/>
<text class="lb" x="159.23" y="49.32" fill="#000" style="font-size:9.6px;" textLength="20.85" lengthAdjust="spacingAndGlyphs">4,9%</text>
<text class="ax" x="161.3" y="503.3" textLength="17.2" lengthAdjust="spacingAndGlyphs">2016</text>
<rect x="205.62" y="263.87" width="35.75" height="224.93" fill="#000"/>
<rect x="205.32" y="165.05" width="35.85" height="59.70" fill="#bfbfbf"/>
<path d="M205.32,165.05 H241.17 M205.32,224.75 H241.17" stroke="#6a6a6a" stroke-width="0.6" fill="none"/>
<rect x="205.32" y="67.99" width="35.85" height="97.05" fill="#fff"/>
<path d="M205.32,165.05 H241.17" stroke="#9a9a9a" stroke-width="0.5" fill="none"/>
<path d="M205.76,67.99 V263.87 M241.82,67.99 V263.87" stroke="#6a6a6a" stroke-width="0.6" fill="none"/>
<text class="lb" x="211.05" y="379.53" fill="#fff" style="font-size:9.3px;" textLength="24.38" lengthAdjust="spacingAndGlyphs">74,2%</text>
<rect x="210.9" y="237.5" width="24.6" height="13.6" fill="#f2f2f2"/>
<text class="lb" x="212.82" y="247.71" fill="#000" style="font-size:9.6px;" textLength="20.85" lengthAdjust="spacingAndGlyphs">4,2%</text>
<text class="lb" x="212.82" y="198.50" fill="#404040" style="font-size:9.6px;" textLength="20.85" lengthAdjust="spacingAndGlyphs">6,5%</text>
<text class="lb" x="210.27" y="120.12" fill="#404040" style="font-size:9.6px;" textLength="25.94" lengthAdjust="spacingAndGlyphs">10,4%</text>
<rect x="210.9" y="38.7" width="24.6" height="13.6" fill="#f2f2f2"/>
<text class="lb" x="212.82" y="48.95" fill="#000" style="font-size:9.6px;" textLength="20.85" lengthAdjust="spacingAndGlyphs">4,8%</text>
<text class="ax" x="214.8" y="503.3" textLength="17.2" lengthAdjust="spacingAndGlyphs">2017</text>
<rect x="259.21" y="240.12" width="35.75" height="248.68" fill="#000"/>
<rect x="258.91" y="153.50" width="35.85" height="56.82" fill="#bfbfbf"/>
<path d="M258.91,153.50 H294.76 M258.91,210.31 H294.76" stroke="#6a6a6a" stroke-width="0.6" fill="none"/>
<rect x="258.91" y="68.27" width="35.85" height="85.22" fill="#fff"/>
<path d="M258.91,153.50 H294.76" stroke="#9a9a9a" stroke-width="0.5" fill="none"/>
<path d="M258.76,68.27 V240.12 M294.82,68.27 V240.12" stroke="#6a6a6a" stroke-width="0.6" fill="none"/>
<text class="lb" x="264.64" y="367.66" fill="#fff" style="font-size:9.3px;" textLength="24.38" lengthAdjust="spacingAndGlyphs">76,7%</text>
<rect x="264.5" y="218.4" width="24.6" height="13.6" fill="#f2f2f2"/>
<text class="lb" x="266.41" y="228.61" fill="#000" style="font-size:9.6px;" textLength="20.85" lengthAdjust="spacingAndGlyphs">3,2%</text>
<text class="lb" x="266.41" y="185.50" fill="#363636" style="font-size:9.6px;font-weight:normal;stroke:#363636;stroke-width:0.3px;" textLength="20.85" lengthAdjust="spacingAndGlyphs">6,1%</text>
<text class="lb" x="266.41" y="114.48" fill="#363636" style="font-size:9.6px;font-weight:normal;stroke:#363636;stroke-width:0.3px;" textLength="20.85" lengthAdjust="spacingAndGlyphs">9,2%</text>
<rect x="264.5" y="38.9" width="24.6" height="13.6" fill="#f2f2f2"/>
<text class="lb" x="266.41" y="49.09" fill="#000" style="font-size:9.6px;" textLength="20.85" lengthAdjust="spacingAndGlyphs">4,9%</text>
<text class="ax" x="268.4" y="503.3" textLength="17.2" lengthAdjust="spacingAndGlyphs">2018</text>
<rect x="312.80" y="218.69" width="35.75" height="270.11" fill="#000"/>
<rect x="312.50" y="77.12" width="35.85" height="82.89" fill="#fff"/>
<path d="M312.50,160.02 H348.35" stroke="#9a9a9a" stroke-width="0.5" fill="none"/>
<path d="M312.82,77.12 V218.69 M348.76,77.12 V218.69" stroke="#6a6a6a" stroke-width="0.6" fill="none"/>
<text class="lb" x="318.23" y="356.95" fill="#fff" style="font-size:9.3px;" textLength="24.38" lengthAdjust="spacingAndGlyphs">79,0%</text>
<rect x="318.1" y="182.6" width="24.6" height="13.6" fill="#f2f2f2"/>
<text class="lb" x="320.00" y="192.75" fill="#000" style="font-size:9.6px;" textLength="20.85" lengthAdjust="spacingAndGlyphs">6,3%</text>
<text class="lb" x="320.00" y="122.17" fill="#363636" style="font-size:9.6px;font-weight:normal;stroke:#363636;stroke-width:0.3px;" textLength="20.85" lengthAdjust="spacingAndGlyphs">8,9%</text>
<rect x="318.1" y="43.3" width="24.6" height="13.6" fill="#f2f2f2"/>
<text class="lb" x="320.00" y="53.51" fill="#000" style="font-size:9.6px;" textLength="20.85" lengthAdjust="spacingAndGlyphs">5,8%</text>
<text class="ax" x="322.0" y="503.3" textLength="17.2" lengthAdjust="spacingAndGlyphs">2019</text>
<rect x="366.39" y="197.27" width="35.75" height="291.53" fill="#000"/>
<rect x="366.09" y="69.67" width="35.85" height="78.24" fill="#fff"/>
<path d="M366.09,147.91 H401.94" stroke="#9a9a9a" stroke-width="0.5" fill="none"/>
<path d="M366.24,69.67 V197.27 M401.82,69.67 V197.27" stroke="#6a6a6a" stroke-width="0.6" fill="none"/>
<text class="lb" x="371.82" y="346.24" fill="#fff" style="font-size:9.3px;" textLength="24.38" lengthAdjust="spacingAndGlyphs">81,3%</text>
<rect x="371.7" y="165.8" width="24.6" height="13.6" fill="#f2f2f2"/>
<text class="lb" x="373.59" y="175.99" fill="#000" style="font-size:9.6px;" textLength="20.85" lengthAdjust="spacingAndGlyphs">5,3%</text>
<text class="lb" x="373.59" y="112.39" fill="#363636" style="font-size:9.6px;font-weight:normal;stroke:#363636;stroke-width:0.3px;" textLength="20.85" lengthAdjust="spacingAndGlyphs">8,4%</text>
<rect x="371.7" y="39.6" width="24.6" height="13.6" fill="#f2f2f2"/>
<text class="lb" x="373.59" y="49.79" fill="#000" style="font-size:9.6px;" textLength="20.85" lengthAdjust="spacingAndGlyphs">5,0%</text>
<text class="ax" x="375.6" y="503.3" textLength="17.2" lengthAdjust="spacingAndGlyphs">2020</text>
<rect x="419.98" y="180.51" width="35.75" height="308.29" fill="#000"/>
<rect x="419.68" y="70.60" width="35.85" height="69.85" fill="#fff"/>
<path d="M419.68,140.46 H455.53" stroke="#9a9a9a" stroke-width="0.5" fill="none"/>
<path d="M419.12,70.60 V180.51 M455.70,70.60 V180.51" stroke="#6a6a6a" stroke-width="0.6" fill="none"/>
<text class="lb" x="425.41" y="337.85" fill="#fff" style="font-size:9.3px;" textLength="24.38" lengthAdjust="spacingAndGlyphs">83,1%</text>
<rect x="425.3" y="153.7" width="24.6" height="13.6" fill="#f2f2f2"/>
<text class="lb" x="427.18" y="163.88" fill="#000" style="font-size:9.6px;" textLength="20.85" lengthAdjust="spacingAndGlyphs">4,3%</text>
<text class="lb" x="427.18" y="109.13" fill="#363636" style="font-size:9.6px;font-weight:normal;stroke:#363636;stroke-width:0.3px;" textLength="20.85" lengthAdjust="spacingAndGlyphs">7,5%</text>
<rect x="425.3" y="40.1" width="24.6" height="13.6" fill="#f2f2f2"/>
<text class="lb" x="427.18" y="50.25" fill="#000" style="font-size:9.6px;" textLength="20.85" lengthAdjust="spacingAndGlyphs">5,1%</text>
<text class="ax" x="429.2" y="503.3" textLength="17.2" lengthAdjust="spacingAndGlyphs">2021</text>
<rect x="473.57" y="173.06" width="35.75" height="315.74" fill="#000"/>
<rect x="473.27" y="80.57" width="35.85" height="65.48" fill="#fff"/>
<path d="M473.27,146.04 H509.12" stroke="#9a9a9a" stroke-width="0.5" fill="none"/>
<path d="M473.12,80.57 V173.06 M509.00,80.57 V173.06" stroke="#6a6a6a" stroke-width="0.6" fill="none"/>
<text class="lb" x="479.00" y="334.13" fill="#fff" style="font-size:9.3px;font-weight:normal;stroke:#fff;stroke-width:0.3px;" textLength="24.38" lengthAdjust="spacingAndGlyphs">83,9%</text>
<rect x="478.9" y="152.8" width="24.6" height="13.6" fill="#f2f2f2"/>
<text class="lb" x="480.77" y="162.95" fill="#000" style="font-size:9.6px;" textLength="20.85" lengthAdjust="spacingAndGlyphs">2,9%</text>
<text class="lb" x="480.77" y="116.91" fill="#363636" style="font-size:9.6px;font-weight:normal;stroke:#363636;stroke-width:0.3px;" textLength="20.85" lengthAdjust="spacingAndGlyphs">7,1%</text>
<rect x="478.9" y="45.0" width="24.6" height="13.6" fill="#f2f2f2"/>
<text class="lb" x="480.77" y="55.23" fill="#000" style="font-size:9.6px;" textLength="20.85" lengthAdjust="spacingAndGlyphs">6,2%</text>
<text class="ax" x="482.8" y="503.3" textLength="17.2" lengthAdjust="spacingAndGlyphs">2022</text>
<rect x="527.16" y="167.47" width="35.75" height="321.33" fill="#000"/>
<rect x="526.86" y="79.92" width="35.85" height="62.40" fill="#fff"/>
<path d="M526.86,142.32 H562.71" stroke="#9a9a9a" stroke-width="0.5" fill="none"/>
<path d="M526.94,79.92 V167.47 M562.12,79.92 V167.47" stroke="#6a6a6a" stroke-width="0.6" fill="none"/>
<text class="lb" x="532.59" y="331.33" fill="#fff" style="font-size:9.3px;font-weight:normal;stroke:#fff;stroke-width:0.3px;" textLength="24.38" lengthAdjust="spacingAndGlyphs">84,5%</text>
<rect x="532.5" y="148.1" width="24.6" height="13.6" fill="#f2f2f2"/>
<text class="lb" x="534.36" y="158.29" fill="#000" style="font-size:9.6px;" textLength="20.85" lengthAdjust="spacingAndGlyphs">2,7%</text>
<text class="lb" x="534.36" y="114.72" fill="#363636" style="font-size:9.6px;font-weight:normal;stroke:#363636;stroke-width:0.3px;" textLength="20.85" lengthAdjust="spacingAndGlyphs">6,7%</text>
<rect x="532.5" y="44.7" width="24.6" height="13.6" fill="#f2f2f2"/>
<text class="lb" x="534.36" y="54.91" fill="#000" style="font-size:9.6px;" textLength="20.85" lengthAdjust="spacingAndGlyphs">6,1%</text>
<text class="ax" x="536.4" y="503.3" textLength="17.2" lengthAdjust="spacingAndGlyphs">2023</text>
<rect x="580.75" y="164.67" width="35.75" height="324.13" fill="#000"/>
<rect x="580.45" y="78.80" width="35.85" height="59.80" fill="#fff"/>
<path d="M580.45,138.59 H616.30" stroke="#9a9a9a" stroke-width="0.5" fill="none"/>
<path d="M580.12,78.80 V164.67 M616.06,78.80 V164.67" stroke="#6a6a6a" stroke-width="0.6" fill="none"/>
<text class="lb" x="586.18" y="329.94" fill="#fff" style="font-size:9.3px;font-weight:normal;stroke:#fff;stroke-width:0.3px;" textLength="24.38" lengthAdjust="spacingAndGlyphs">84,8%</text>
<rect x="586.1" y="144.8" width="24.6" height="13.6" fill="#f2f2f2"/>
<text class="lb" x="587.95" y="155.03" fill="#000" style="font-size:9.6px;" textLength="20.85" lengthAdjust="spacingAndGlyphs">2,8%</text>
<text class="lb" x="587.95" y="112.30" fill="#363636" style="font-size:9.6px;font-weight:normal;stroke:#363636;stroke-width:0.3px;" textLength="20.85" lengthAdjust="spacingAndGlyphs">6,4%</text>
<rect x="586.1" y="44.1" width="24.6" height="13.6" fill="#f2f2f2"/>
<text class="lb" x="587.95" y="54.35" fill="#000" style="font-size:9.6px;" textLength="20.85" lengthAdjust="spacingAndGlyphs">6,1%</text>
<text class="ax" x="590.0" y="503.3" textLength="17.2" lengthAdjust="spacingAndGlyphs">2024</text>
<rect x="44.4" y="509.5" width="7.5" height="7.5" fill="#000" stroke="none" stroke-width="0.7"/>
<text class="lg" x="55.3" y="517.2" textLength="110.7" lengthAdjust="spacingAndGlyphs">Superior Licenciatura</text>
<text class="lg" x="260.8" y="517.2" textLength="112.7" lengthAdjust="spacingAndGlyphs">Superior Bacharelado</text>
<rect x="455.0" y="509.5" width="7.5" height="7.5" fill="#bfbfbf" stroke="#a6a6a6" stroke-width="0.7"/>
<text class="lg" x="466.5" y="517.2" textLength="125.8" lengthAdjust="spacingAndGlyphs">Superior em Andamento</text>
<rect x="44.4" y="528.3" width="7.5" height="7.5" fill="#fff" stroke="#bfbfbf" stroke-width="0.7"/>
<text class="lg" x="55.5" y="536.0" textLength="96.7" lengthAdjust="spacingAndGlyphs">Normal/Magistério</text>
<text class="lg" x="260.8" y="536.0" textLength="98.4" lengthAdjust="spacingAndGlyphs">Ens. Médio/Inferior</text>
</svg></body></html>
